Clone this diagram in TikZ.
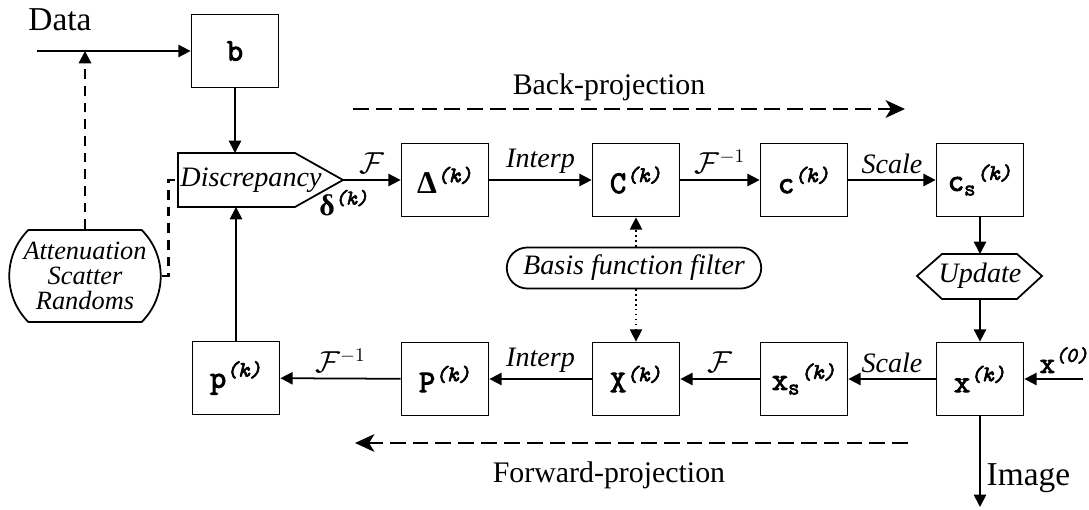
\documentclass[tikz,border=0pt]{standalone}
\usepackage{fontspec}
\setmainfont{Liberation Serif}
\newfontfamily\boxfont{Latin Modern Mono}[FakeBold=3]
\usetikzlibrary{arrows.meta,shapes.misc}

\newcommand{\kk}{\textsuperscript{\itshape(k)}}

\begin{document}
\begin{tikzpicture}[x=0.02cm,y=-0.02cm,
    line width=1pt,
    >={Triangle[length=7pt,width=7pt]},
    blk/.style={draw, minimum width=1.74cm, minimum height=1.46cm, inner sep=1pt,
      font=\fontsize{18}{18}\selectfont\boxfont},
    scr/.style={inner sep=1pt, font=\fontsize{16}{18}\selectfont\itshape},
    lbl/.style={above, inner sep=3pt, font=\fontsize{16}{18}\selectfont\itshape},
    big/.style={font=\fontsize{19}{22}\selectfont},
    proj/.style={font=\fontsize{17}{20}\selectfont},
    flow/.style={line width=1.6pt, dash pattern=on 9pt off 4pt,
      -{Stealth[length=11pt,width=10pt,inset=3pt]}},
    corr/.style={line width=1.3pt, dash pattern=on 5.5pt off 4pt},
    filt/.style={dotted, line width=0.8pt}]
  \useasboundingbox (0,0) rectangle (1089,510);

  % Messdaten
  \node[big] (data) at (60,20) {Data};
  \coordinate (datain) at (37,51);
  \coordinate (tap) at (85,51);
  \node[blk] (b) at (235,51) {b};

  % Vergleich (Fuenfeck)
  \node[scr] (disc) at (251,180) {Discrepancy};
  \coordinate (dnw) at (178,153);
  \coordinate (dne) at (295,153);
  \coordinate (disctip) at (343,180);
  \coordinate (dse) at (295,207);
  \coordinate (dsw) at (178,207);
  \coordinate (discw) at (178,180);
  \draw (dnw) -- (dne) -- (disctip) -- (dse) -- (dsw) -- cycle;
  \node[font=\fontsize{17}{18}\selectfont\bfseries] (dk) at (344,203)
    {δ\textsuperscript{\boxfont\itshape(k)}};

  % Korrekturen
  \node[draw, rounded rectangle, rounded rectangle arc length=90,
    minimum width=3.1cm, minimum height=1.84cm, inner sep=1pt, align=center,
    font=\fontsize{15}{14}\selectfont\itshape] (atten) at (85,276)
    {Attenuation\\Scatter\\Randoms};

  % obere Reihe
  \node[blk] (delta) at (445,180) {{\rmfamily\bfseries Δ}\kk};
  \node[blk] (C) at (636,180) {C\kk};
  \node[blk] (c) at (804,180) {c\kk};
  \node[blk] (cs) at (980,180) {c\textsubscript{s}\kk};

  % Update (Sechseck)
  \node[scr] (upd) at (980,276) {Update};
  \coordinate (updn) at (980,254);
  \coordinate (upds) at (980,299);
  \draw (917,276) -- (942,254) -- (1017,254) -- (1042,276) -- (1017,299) -- (942,299) -- cycle;

  \node[draw, rounded rectangle, minimum width=5.16cm, minimum height=0.82cm,
    inner sep=1pt, font=\fontsize{16}{18}\selectfont\itshape] (basis) at (634,268)
    {Basis function filter};

  % untere Reihe
  \node[blk] (x) at (980,379) {x\kk};
  \node[blk] (xs) at (804,379) {x\textsubscript{s}\kk};
  \node[blk] (X) at (636,379) {X\kk};
  \node[blk] (P) at (445,379) {P\kk};
  \node[blk] (p) at (236,378) {p\kk};
  \coordinate (x0) at (1083,379);
  \coordinate (imgout) at (980,507);

  % Pfeile
  \draw[->] (datain) -- (b);
  \draw[->] (b.south) -- (b.south |- dnw);
  \draw[->] (disctip) -- node[lbl] {$\mathcal{F}$} (delta);
  \draw[->] (delta) -- node[lbl] {Interp} (C);
  \draw[->] (C) -- node[lbl] {$\mathcal{F}^{-1}$} (c);
  \draw[->] (c) -- node[lbl] {Scale} (cs);
  \draw[->] (cs) -- (updn);
  \draw[->] (upds) -- (x);
  \draw[->] (x0) -- node[above, inner sep=3pt, pos=0.32,
    font=\fontsize{17}{18}\selectfont\boxfont] {x\textsuperscript{\itshape(0)}} (x);
  \draw[->] (x) -- node[big, right, pos=0.68] {Image} (imgout);
  \draw[->] (x) -- node[lbl] {Scale} (xs);
  \draw[->] (xs) -- node[lbl] {$\mathcal{F}$} (X);
  \draw[->] (X) -- node[lbl] {Interp} (P);
  \draw[->] (P) -- node[lbl] {$\mathcal{F}^{-1}$} (p);
  \draw[->] (p.north) -- (p.north |- dsw);

  % Filter
  \draw[->, filt] (C.south |- basis.north) -- (C.south);
  \draw[->, filt] (X.north |- basis.south) -- (X.north);

  % Korrekturen
  \draw[->, corr] (atten.north) -- (tap);
  \draw[corr] (atten.east) -- ++(7,0) |- (discw);

  % Projektionsrichtungen
  \coordinate (bp1) at (353,109);
  \coordinate (bp2) at (905,109);
  \draw[flow] (bp1) -- (bp2);
  \node[proj] (bplab) at (609,87) {Back-projection};
  \coordinate (fp1) at (908,443);
  \coordinate (fp2) at (355,443);
  \draw[flow] (fp1) -- (fp2);
  \node[proj] (fplab) at (609,475) {Forward-projection};
\end{tikzpicture}
\end{document}
